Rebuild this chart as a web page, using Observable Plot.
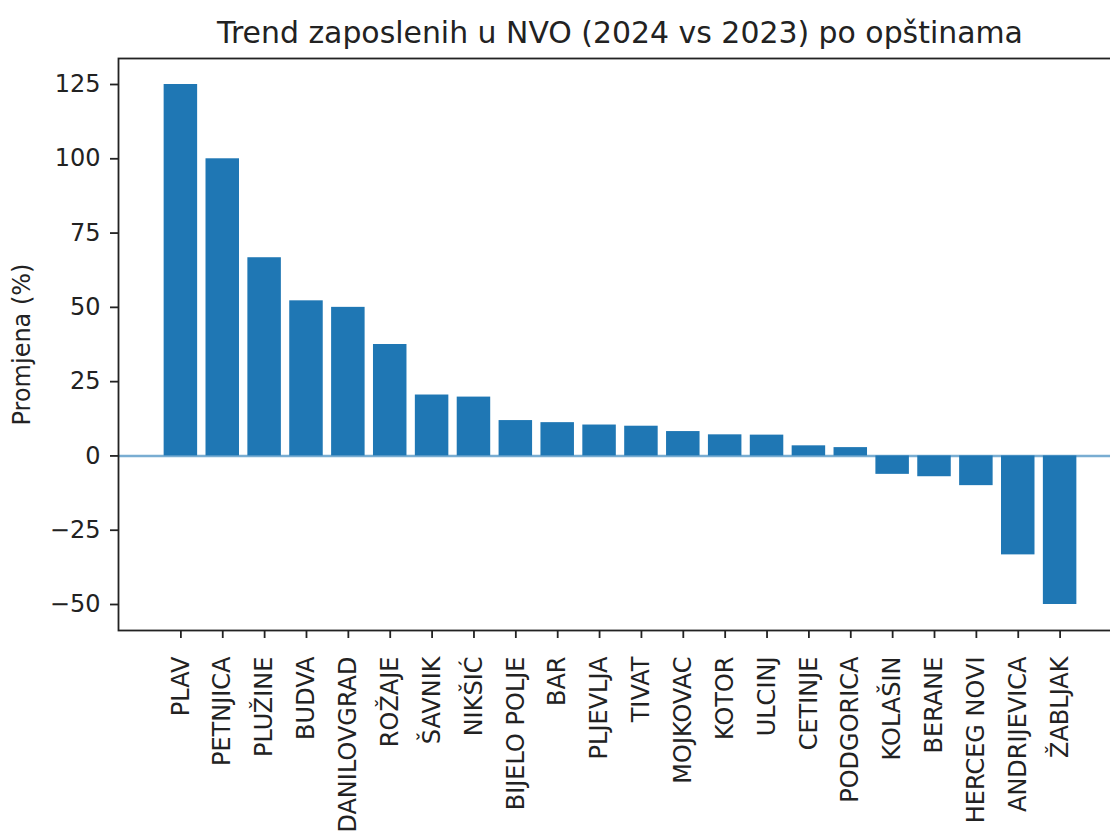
<!DOCTYPE html>
<html>
<head>
<meta charset="utf-8">
<script src="https://cdn.jsdelivr.net/npm/d3@7"></script>
<script src="https://cdn.jsdelivr.net/npm/@observablehq/plot@0.6"></script>
<style>
  html, body { margin: 0; padding: 0; background: #fff; overflow: hidden; width: 1110px; }
  #title { box-sizing: border-box; font-family: "DejaVu Sans", sans-serif; font-size: 29.9px; line-height: 1; color: #222;
           height: 46px; padding-top: 18px; padding-left: 130px; width: 1110px; text-align: center; white-space: nowrap; position: relative; z-index: 1; }
  #chart { width: 1110px; height: 789px; overflow: hidden; }
  #chart svg { display: block; max-width: none !important; }
</style>
</head>
<body>
<div id="title">Trend zaposlenih u NVO (2024 vs 2023) po opštinama</div>
<div id="chart"></div>
<script>
const municipalities = ["PLAV", "PETNJICA", "PLUŽINE", "BUDVA", "DANILOVGRAD", "ROŽAJE", "ŠAVNIK", "NIKŠIĆ",
  "BIJELO POLJE", "BAR", "PLJEVLJA", "TIVAT", "MOJKOVAC", "KOTOR", "ULCINJ", "CETINJE", "PODGORICA",
  "KOLAŠIN", "BERANE", "HERCEG NOVI", "ANDRIJEVICA", "ŽABLJAK"];
const changePct = [125, 100, 66.7, 52.2, 50, 37.5, 20.5, 19.8,
  11.9, 11.2, 10.4, 10.0, 8.2, 7.1, 7.0, 3.4, 2.8,
  -6.2, -7.0, -10.0, -33.3, -50];
const yTicks = [-50, -25, 0, 25, 50, 75, 100, 125];
const yLabel = "Promjena (%)";

const data = municipalities.map((m, i) => ({name: m, value: changePct[i]}));

const chart = Plot.plot({
  width: 1125,
  height: 789,
  marginLeft: 118,
  marginRight: 3,
  marginTop: 12,
  marginBottom: 205,
  style: {fontFamily: "DejaVu Sans, sans-serif", fontSize: "24px", color: "#222", background: "transparent", overflow: "hidden", maxWidth: "none"},
  x: {domain: municipalities, paddingInner: 0.2, paddingOuter: 1.09, align: 0.5, round: false, label: null},
  y: {domain: [-58.75, 133.75], label: null},
  marks: [
    Plot.barY(data, {x: "name", y: "value", fill: "#1f77b4"}),
    Plot.ruleY([0], {stroke: "#1f77b4", strokeOpacity: 0.6, strokeWidth: 2.6}),
    Plot.frame({stroke: "#222", strokeWidth: 1.8}),
    Plot.axisY({ticks: yTicks, tickSize: 8, tickPadding: 10, strokeWidth: 1.8, label: null, fontSize: 24}),
    Plot.axisX({tickSize: 8, tickPadding: 18, tickRotate: -90, strokeWidth: 1.8, label: null, fontSize: 24}),
    Plot.text([yLabel], {frameAnchor: "left", textAnchor: "middle", lineAnchor: "middle", rotate: -90, dx: -96, fontSize: 24, fill: "#222"})
  ]
});
document.getElementById("chart").appendChild(chart);
</script>
</body>
</html>
